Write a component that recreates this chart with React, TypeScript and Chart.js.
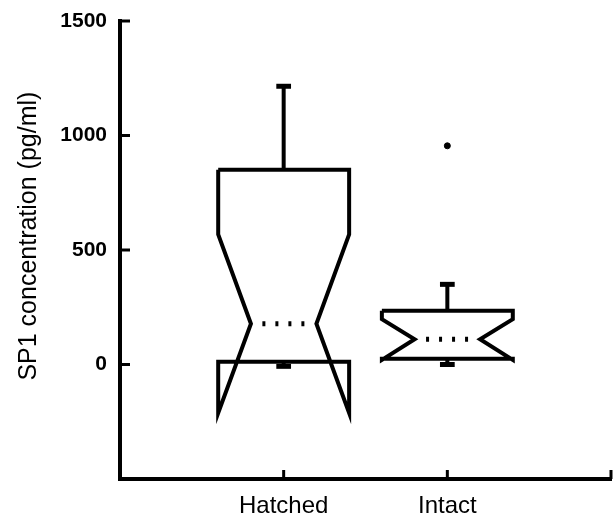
import React, { useEffect, useRef } from "react";
import { Chart, registerables } from "chart.js";

Chart.register(...registerables);

// ---- data ----
const categories = ["Hatched", "Intact"];
const q1 = [12, 25];
const median = [178, 110];
const q3 = [850, 235];
const notchLow = [-212, 20];
const notchHigh = [568, 198];
const whiskerLow = [-8, 0];
const whiskerHigh = [1215, 350];
const outliers = [[], [955]];
const yTicks = [0, 500, 1000, 1500];
const yMin = -500;
const yMax = 1500;
const yTitle = "SP1 concentration (pg/ml)";

// ---- style constants (in x-axis units) ----
const BOX_HALF = 0.4;
const NOTCH_HALF = 0.2;
const CAP_HALF = 0.045;
const MEDIAN_HALF = 0.13;

const SANS = "'Liberation Sans', Arial, Helvetica, sans-serif";

function lineDs(points: { x: number; y: number }[], extra: any = {}) {
  return {
    type: "scatter" as const,
    data: points,
    showLine: true,
    borderColor: "#000",
    backgroundColor: "#000",
    borderWidth: 4,
    pointRadius: 0,
    fill: false,
    tension: 0,
    borderJoinStyle: "miter",
    clip: false,
    ...extra,
  };
}

function buildDatasets() {
  const ds: any[] = [];
  categories.forEach((_, i) => {
    const x = i + 1;
    const w = BOX_HALF;
    const n = NOTCH_HALF;
    ds.push(
      lineDs([
        { x: x - w, y: q3[i] },
        { x: x - w, y: notchHigh[i] },
        { x: x - n, y: median[i] },
        { x: x - w, y: notchLow[i] },
        { x: x - w, y: q1[i] },
        { x: x + w, y: q1[i] },
        { x: x + w, y: notchLow[i] },
        { x: x + n, y: median[i] },
        { x: x + w, y: notchHigh[i] },
        { x: x + w, y: q3[i] },
        { x: x - w, y: q3[i] },
      ])
    );
    ds.push(lineDs([{ x, y: q3[i] }, { x, y: whiskerHigh[i] }]));
    ds.push(lineDs([{ x: x - CAP_HALF, y: whiskerHigh[i] }, { x: x + CAP_HALF, y: whiskerHigh[i] }], { borderWidth: 5 }));
    ds.push(lineDs([{ x, y: q1[i] }, { x, y: whiskerLow[i] }]));
    ds.push(lineDs([{ x: x - CAP_HALF, y: whiskerLow[i] }, { x: x + CAP_HALF, y: whiskerLow[i] }], { borderWidth: 5 }));
    ds.push(
      lineDs([{ x: x - MEDIAN_HALF, y: median[i] }, { x: x + MEDIAN_HALF, y: median[i] }], {
        borderDash: [3, 10],
        borderCapStyle: "butt",
        borderWidth: 5,
      })
    );
    if (outliers[i].length) {
      ds.push({
        type: "scatter" as const,
        data: outliers[i].map((v) => ({ x, y: v })),
        pointRadius: 3,
        pointBackgroundColor: "#000",
        pointBorderColor: "#000",
        showLine: false,
        clip: false,
      });
    }
  });
  return ds;
}

const inwardTicks = {
  id: "inwardTicks",
  afterDraw(chart: any) {
    const { ctx, chartArea, scales } = chart;
    const xs = scales.x;
    const ys = scales.y;
    ctx.save();
    ctx.strokeStyle = "#000";
    ctx.lineWidth = 3;
    ys.ticks.forEach((t: any) => {
      if (t.value === yMin) return;
      const py = ys.getPixelForValue(t.value);
      ctx.beginPath();
      ctx.moveTo(chartArea.left, py);
      ctx.lineTo(chartArea.left + 10, py);
      ctx.stroke();
    });
    xs.ticks.forEach((t: any) => {
      if (t.value === 0) return;
      const px = xs.getPixelForValue(t.value);
      ctx.beginPath();
      ctx.moveTo(px, chartArea.bottom);
      ctx.lineTo(px, chartArea.bottom - 9);
      ctx.stroke();
    });
    ctx.restore();
  },
};

export default function App() {
  const ref = useRef<HTMLCanvasElement | null>(null);
  useEffect(() => {
    if (!ref.current) return;
    const chart = new Chart(ref.current, {
      type: "scatter",
      data: { datasets: buildDatasets() },
      options: {
        animation: false,
        responsive: false,
        devicePixelRatio: 1,
        layout: { autoPadding: false, padding: { top: 21, right: 2, left: 0, bottom: 0 } },
        plugins: { legend: { display: false }, tooltip: { enabled: false } },
        scales: {
          x: {
            type: "linear",
            min: 0,
            max: categories.length + 1,
            afterBuildTicks: (s: any) => {
              s.ticks = [0, ...categories.map((_, i) => i + 1), categories.length + 1].map((v) => ({ value: v }));
            },
            afterFit: (s: any) => {
              s.height = 37;
              s.paddingLeft = 0;
              s.paddingRight = 0;
            },
            grid: { display: true, drawOnChartArea: false, drawTicks: false },
            border: { display: true, width: 4, color: "#000" },
            ticks: {
              color: "#000",
              padding: 13,
              maxRotation: 0,
              autoSkip: false,
              font: { family: SANS, size: 24 },
              callback: (v: any) => categories[Number(v) - 1] ?? "",
            },
          },
          y: {
            type: "linear",
            min: yMin,
            max: yMax,
            afterBuildTicks: (s: any) => {
              s.ticks = [yMin, ...yTicks].map((v) => ({ value: v }));
            },
            afterFit: (s: any) => {
              s.width = 120;
              s.paddingTop = 0;
              s.paddingBottom = 0;
            },
            grid: { display: true, drawOnChartArea: false, drawTicks: false },
            border: { display: true, width: 4, color: "#000" },
            title: {
              display: true,
              text: "    " + yTitle,
              color: "#000",
              font: { family: SANS, size: 25 },
              padding: { top: 14, bottom: 0 },
            },
            ticks: {
              color: "#000",
              padding: 13,
              font: { family: SANS, size: 21, weight: "bold" },
              callback: (v: any) => (Number(v) === yMin ? "" : String(v)),
            },
          },
        },
      },
      plugins: [inwardTicks],
    });
    return () => chart.destroy();
  }, []);
  return (
    <div style={{ position: "absolute", left: 0, top: 0, width: 613, height: 516, background: "#fff" }}>
      <canvas ref={ref} width={613} height={516} style={{ display: "block" }} />
    </div>
  );
}
